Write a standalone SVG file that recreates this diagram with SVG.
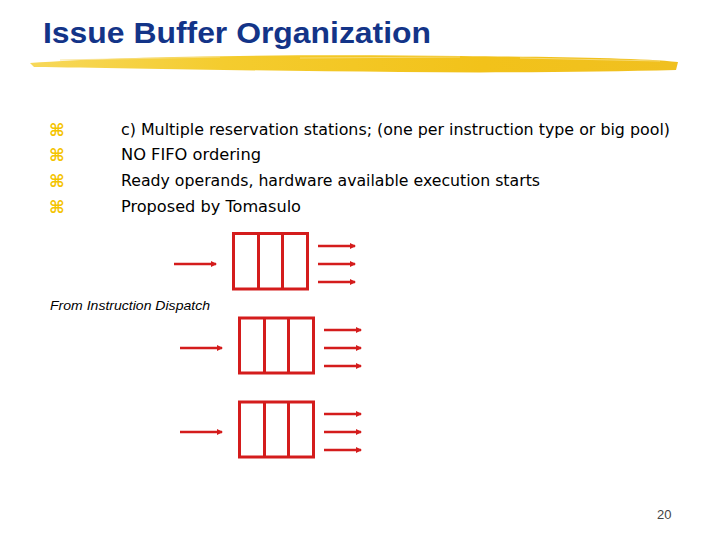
<svg xmlns="http://www.w3.org/2000/svg" width="720" height="540" viewBox="0 0 720 540">
<style>
.title{font-family:"Liberation Sans",Arial,sans-serif;font-weight:bold;font-size:29px;fill:#133488}
.body{font-family:"DejaVu Sans","Liberation Sans",sans-serif;font-size:16px;fill:#000}
.bul{font-family:"DejaVu Sans",sans-serif;font-size:17px;font-weight:bold;fill:#f4c400}
.lbl{font-family:"Liberation Sans",Arial,sans-serif;font-style:italic;font-size:13px;fill:#000}
.pg{font-family:"Liberation Sans",Arial,sans-serif;font-size:13px;fill:#444}
.box{fill:none;stroke:#d41c1c;stroke-width:3}
.arr{stroke:#d41c1c;stroke-width:2.5;fill:none;marker-end:url(#ah)}
</style>
<defs>
<marker id="ah" viewBox="0 0 6 6" refX="5" refY="3" markerWidth="2.4" markerHeight="2.4" orient="auto" markerUnits="strokeWidth">
<path d="M0,0 L6,3 L0,6 z" fill="#d41c1c"/>
</marker>
<linearGradient id="brush" x1="0" y1="0" x2="1" y2="0">
<stop offset="0" stop-color="#f7d85a"/>
<stop offset="0.3" stop-color="#f4cc2e"/>
<stop offset="0.7" stop-color="#f2c21a"/>
<stop offset="1" stop-color="#f0c020"/>
</linearGradient>
</defs>
<rect width="720" height="540" fill="#fff"/>
<g id="title">
<text class="title" x="43" y="43" textLength="388" lengthAdjust="spacingAndGlyphs">Issue Buffer Organization</text>
<path d="M30,63 C120,56 300,54 460,56 C560,57 640,58 678,62 L676,70 C600,72 500,73 400,72 C260,71 120,68 34,67 Z" fill="url(#brush)"/>
<path d="M60,60 L220,57 M300,58 L460,57 M520,58 L660,61" stroke="#f8e08a" stroke-width="1" fill="none" opacity="0.8"/>
</g>
<g id="bullets">
<text class="bul" x="49" y="136">⌘</text>
<text class="bul" x="49" y="161">⌘</text>
<text class="bul" x="49" y="187">⌘</text>
<text class="bul" x="49" y="213">⌘</text>
<text class="body" x="121" y="135" textLength="549" lengthAdjust="spacingAndGlyphs">c) Multiple reservation stations; (one per instruction type or big pool)</text>
<text class="body" x="121" y="160" textLength="140" lengthAdjust="spacingAndGlyphs">NO FIFO ordering</text>
<text class="body" x="121" y="186" textLength="419" lengthAdjust="spacingAndGlyphs">Ready operands, hardware available execution starts</text>
<text class="body" x="121" y="212" textLength="180" lengthAdjust="spacingAndGlyphs">Proposed by Tomasulo</text>
</g>
<g id="label">
<text class="lbl" x="50" y="310" textLength="160" lengthAdjust="spacingAndGlyphs">From Instruction Dispatch</text>
</g>
<g id="rs1">
<rect class="box" x="233.5" y="233.5" width="74" height="55.5"/>
<line class="box" x1="258.5" y1="233.5" x2="258.5" y2="289"/>
<line class="box" x1="282.5" y1="233.5" x2="282.5" y2="289"/>
</g>
<g id="rs2">
<rect class="box" x="239.5" y="318" width="74" height="55"/>
<line class="box" x1="264.5" y1="318" x2="264.5" y2="373"/>
<line class="box" x1="288.5" y1="318" x2="288.5" y2="373"/>
</g>
<g id="rs3">
<rect class="box" x="239.5" y="402" width="74" height="55"/>
<line class="box" x1="264.5" y1="402" x2="264.5" y2="457"/>
<line class="box" x1="288.5" y1="402" x2="288.5" y2="457"/>
</g>
<g id="connectors">
<line class="arr" x1="174" y1="264" x2="216" y2="264"/>
<line class="arr" x1="318" y1="246" x2="355" y2="246"/>
<line class="arr" x1="318" y1="264" x2="355" y2="264"/>
<line class="arr" x1="318" y1="282" x2="355" y2="282"/>
<line class="arr" x1="180" y1="348" x2="222" y2="348"/>
<line class="arr" x1="324" y1="330" x2="361" y2="330"/>
<line class="arr" x1="324" y1="348" x2="361" y2="348"/>
<line class="arr" x1="324" y1="366" x2="361" y2="366"/>
<line class="arr" x1="180" y1="432" x2="222" y2="432"/>
<line class="arr" x1="324" y1="414" x2="361" y2="414"/>
<line class="arr" x1="324" y1="432" x2="361" y2="432"/>
<line class="arr" x1="324" y1="450" x2="361" y2="450"/>
</g>
<g id="page">
<text class="pg" x="657" y="519">20</text>
</g>
</svg>
